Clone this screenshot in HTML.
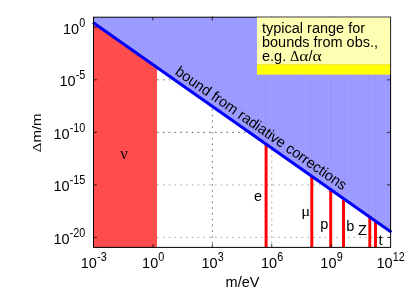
<!DOCTYPE html>
<html><head><meta charset="utf-8">
<style>
html,body{margin:0;padding:0;background:#fff;}
svg{display:block;will-change:transform;}
text{font-family:"Liberation Sans",sans-serif;fill:#000;}
.t{font-size:14.5px;}
.s{font-size:11.5px;}
.g{font-family:"Liberation Serif",serif;}
</style></head><body>
<svg width="415" height="291" viewBox="0 0 415 291">
<defs>
<pattern id="bp" width="3" height="8" patternUnits="userSpaceOnUse"><rect width="3" height="8" fill="#9999ff"/><rect x="1" width="1" height="8" fill="#9f9fff"/></pattern>
<pattern id="yp" width="3" height="8" patternUnits="userSpaceOnUse"><rect width="3" height="8" fill="#ffffb2"/><rect x="1" width="1" height="8" fill="#ffffb5"/></pattern>
</defs>
<rect width="415" height="291" fill="#fff"/>
<g stroke-width="0.95" stroke-dasharray="1.7,4.08" fill="none">
<line x1="93.5" y1="79.82" x2="390.6" y2="79.82" stroke="#707070"/>
<line x1="93.5" y1="132.35" x2="390.6" y2="132.35" stroke="#585858"/>
<line x1="93.5" y1="184.88" x2="390.6" y2="184.88" stroke="#a8a8a8"/>
<line x1="93.5" y1="237.40" x2="390.6" y2="237.40" stroke="#a8a8a8"/>
<line x1="212.34" y1="16.4" x2="212.34" y2="247.4" stroke="#686868"/>
<line x1="271.76" y1="16.4" x2="271.76" y2="247.4" stroke="#a0a0a0"/>
<line x1="331.18" y1="16.4" x2="331.18" y2="247.4" stroke="#909090"/>
</g>
<polygon points="93.5,17.2 390.6,17.2 390.6,231.76 93.5,22.94" fill="url(#bp)"/>
<polygon points="93.5,22.94 157.0,67.57 157.0,247.4 93.5,247.4" fill="#ff4d4d"/>
<g stroke="#ff0202" stroke-width="2.95">
<line x1="266.1" y1="247.4" x2="266.1" y2="144.25"/>
<line x1="311.8" y1="247.4" x2="311.8" y2="176.37"/>
<line x1="330.7" y1="247.4" x2="330.7" y2="189.66"/>
<line x1="343.5" y1="247.4" x2="343.5" y2="198.65"/>
<line x1="369.8" y1="247.4" x2="369.8" y2="217.14"/>
<line x1="375.5" y1="247.4" x2="375.5" y2="221.15"/>
</g>
<g stroke="#ff2020" stroke-width="1.2" opacity="0.05">
<line x1="266.1" y1="17.2" x2="266.1" y2="144.25"/>
<line x1="311.8" y1="17.2" x2="311.8" y2="176.37"/>
<line x1="330.7" y1="17.2" x2="330.7" y2="189.66"/>
<line x1="343.5" y1="17.2" x2="343.5" y2="198.65"/>
<line x1="369.8" y1="17.2" x2="369.8" y2="217.14"/>
<line x1="375.5" y1="17.2" x2="375.5" y2="221.15"/>
</g>
<line x1="93.0" y1="22.59" x2="391.40000000000003" y2="232.32" stroke="#0000fa" stroke-width="3.0"/>
<rect x="93.5" y="17.2" width="297.10" height="230.20" fill="none" stroke="#000" stroke-width="1"/>
<g stroke="#000" stroke-width="0.8">
<line x1="93.5" y1="27.30" x2="96.9" y2="27.30"/><line x1="390.6" y1="27.30" x2="387.20000000000005" y2="27.30"/>
<line x1="93.5" y1="79.82" x2="96.9" y2="79.82"/><line x1="390.6" y1="79.82" x2="387.20000000000005" y2="79.82"/>
<line x1="93.5" y1="132.35" x2="96.9" y2="132.35"/><line x1="390.6" y1="132.35" x2="387.20000000000005" y2="132.35"/>
<line x1="93.5" y1="184.88" x2="96.9" y2="184.88"/><line x1="390.6" y1="184.88" x2="387.20000000000005" y2="184.88"/>
<line x1="93.5" y1="237.40" x2="96.9" y2="237.40"/><line x1="390.6" y1="237.40" x2="387.20000000000005" y2="237.40"/>
<line x1="152.92" y1="247.4" x2="152.92" y2="244.20000000000002"/><line x1="152.92" y1="17.2" x2="152.92" y2="20.4"/>
<line x1="212.34" y1="247.4" x2="212.34" y2="244.20000000000002"/><line x1="212.34" y1="17.2" x2="212.34" y2="20.4"/>
<line x1="271.76" y1="247.4" x2="271.76" y2="244.20000000000002"/><line x1="271.76" y1="17.2" x2="271.76" y2="20.4"/>
<line x1="331.18" y1="247.4" x2="331.18" y2="244.20000000000002"/><line x1="331.18" y1="17.2" x2="331.18" y2="20.4"/>
</g>
<rect x="257" y="17" width="133.15" height="47.4" fill="url(#yp)"/>
<rect x="257" y="64.3" width="133.15" height="10.4" fill="#ffff08"/>
<line x1="257" y1="17.2" x2="390.6" y2="17.2" stroke="#555" stroke-width="0.8"/>
<text class="t" transform="translate(79.14,33.90) scale(1,1.05)" text-anchor="end">10</text>
<text class="s" transform="translate(79.34,26.70) scale(0.94,1.07)">0</text>
<text class="t" transform="translate(75.54,86.42) scale(1,1.05)" text-anchor="end">10</text>
<text class="s" transform="translate(75.74,79.22) scale(0.94,1.07)">-5</text>
<text class="t" transform="translate(69.53,138.95) scale(1,1.05)" text-anchor="end">10</text>
<text class="s" transform="translate(69.73,131.75) scale(0.94,1.07)">-10</text>
<text class="t" transform="translate(69.53,191.47) scale(1,1.05)" text-anchor="end">10</text>
<text class="s" transform="translate(69.73,184.28) scale(0.94,1.07)">-15</text>
<text class="t" transform="translate(69.53,244.00) scale(1,1.05)" text-anchor="end">10</text>
<text class="s" transform="translate(69.73,236.80) scale(0.94,1.07)">-20</text>
<text class="t" transform="translate(80.75,268.30) scale(1,1.05)">10</text>
<text class="s" transform="translate(97.05,260.90) scale(0.94,1.07)">-3</text>
<text class="t" transform="translate(142.07,268.30) scale(1,1.05)">10</text>
<text class="s" transform="translate(158.37,260.90) scale(0.94,1.07)">0</text>
<text class="t" transform="translate(201.49,268.30) scale(1,1.05)">10</text>
<text class="s" transform="translate(217.79,260.90) scale(0.94,1.07)">3</text>
<text class="t" transform="translate(260.91,268.30) scale(1,1.05)">10</text>
<text class="s" transform="translate(277.21,260.90) scale(0.94,1.07)">6</text>
<text class="t" transform="translate(320.33,268.30) scale(1,1.05)">10</text>
<text class="s" transform="translate(336.63,260.90) scale(0.94,1.07)">9</text>
<text class="t" transform="translate(376.55,268.30) scale(1,1.05)">10</text>
<text class="s" transform="translate(392.85,260.90) scale(0.94,1.07)">12</text>
<text class="t" transform="translate(242.50,287.40) scale(1,1.05)" text-anchor="middle">m/eV</text>
<text class="t" transform="translate(40.70,132.80) rotate(-90) scale(1.035,0.86)" text-anchor="middle"><tspan class="g">Δ</tspan>m/m</text>
<text class="t" transform="translate(262.00,32.60) scale(1,1.05)">typical range for</text>
<text class="t" transform="translate(262.00,47.30) scale(1,1.05)">bounds from obs.,</text>
<text class="t" transform="translate(262.00,61.10) scale(1,1.05)">e.g.</text>
<text class="t g" transform="translate(289.90,61.10) scale(1,1.05)">Δ</text>
<text class="t g" transform="translate(299.20,61.10) scale(1.2,1.05)">α</text>
<text class="t" transform="translate(308.40,61.10) scale(1,1.05)">/</text>
<text class="t g" transform="translate(312.60,61.10) scale(1.2,1.05)">α</text>
<text class="t" transform="translate(174.20,73.80) rotate(34.8) scale(0.99,1.03)">bound from radiative corrections</text>
<text class="t g" transform="translate(120.20,158.90) scale(1.15,1.18)">ν</text>
<text class="t" transform="translate(254.10,201.00) scale(1,1.05)">e</text>
<text class="t g" transform="translate(301.30,215.80) scale(1.15,1.05)">μ</text>
<text class="t" transform="translate(320.20,228.60) scale(1,1.05)">p</text>
<text class="t" transform="translate(346.20,231.20) scale(1,1.05)">b</text>
<text class="t" transform="translate(358.10,234.80) scale(1,1.05)">Z</text>
<text class="t" transform="translate(378.60,245.00) scale(1,1.05)">t</text>
</svg>
</body></html>
